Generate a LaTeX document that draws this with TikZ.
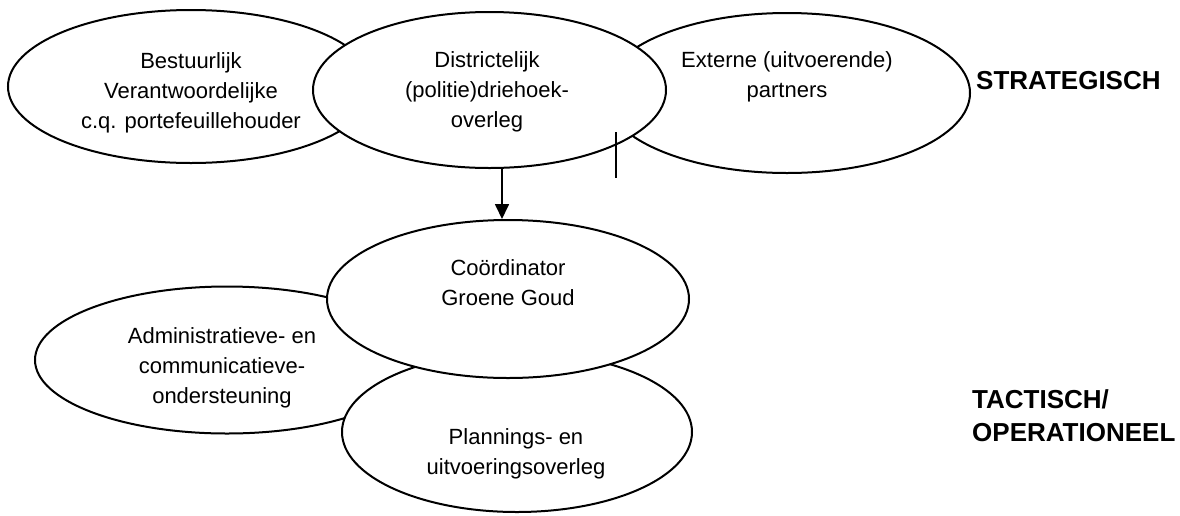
\documentclass[tikz,border=0pt]{standalone}
\usepackage{fontspec}
\setmainfont{Liberation Sans}
\usetikzlibrary{shapes.geometric,arrows.meta}
\begin{document}
\begin{tikzpicture}[x=1pt,y=-1pt,
  oval/.style={ellipse, draw=black, line width=2pt, fill=white, inner sep=0pt},
  txt/.style={align=center, font=\fontsize{22}{30}\selectfont, inner sep=0pt},
  lbl/.style={anchor=west, align=left, font=\fontsize{26}{33}\selectfont\bfseries, inner sep=0pt},
  arr/.style={line width=1.7pt, -{Triangle[length=15pt,width=14pt]}},
  tick/.style={line width=2pt}]
\useasboundingbox (0,0) rectangle (1180,515);
% strategic level
\node[oval, minimum width=366, minimum height=153] (e1) at (191,86.5) {};
\node[oval, minimum width=366, minimum height=160] (e3) at (787,93) {};
\node[oval, minimum width=353, minimum height=156] (e2) at (489.5,90) {};
\node[txt] (t1) at (191,93) {Bestuurlijk\\Verantwoordelijke\\c.q. portefeuillehouder};
\node[txt] (t2) at (487,92) {Districtelijk\\(politie)driehoek-\\overleg};
\node[txt] (t3) at (787,77) {Externe (uitvoerende)\\partners};
\node[lbl] (s1) at (976,81) {STRATEGISCH};
% tactical level
\node[oval, minimum width=384, minimum height=147] (adm) at (227,360) {};
\node[oval, minimum width=350, minimum height=160] (pl) at (517,432) {};
\node[oval, minimum width=362, minimum height=158] (co) at (508,299) {};
\node[txt] (t4) at (222,368) {Administratieve- en\\communicatieve-\\ondersteuning};
\node[txt] (t5) at (508,283) {Coördinator\\Groene Goud};
\node[txt] (t6) at (516,454) {Plannings- en\\uitvoeringsoverleg};
\node[lbl] (s2) at (972,416) {TACTISCH/\\OPERATIONEEL};
% connectors
\path (e2.south) ++(12.5,0) coordinate (a1);
\draw[arr] (a1) -- (a1 |- co.north);
\coordinate (v1) at (616,132);
\coordinate (v2) at (616,178);
\draw[tick] (v1) -- (v2);
\end{tikzpicture}
\end{document}
